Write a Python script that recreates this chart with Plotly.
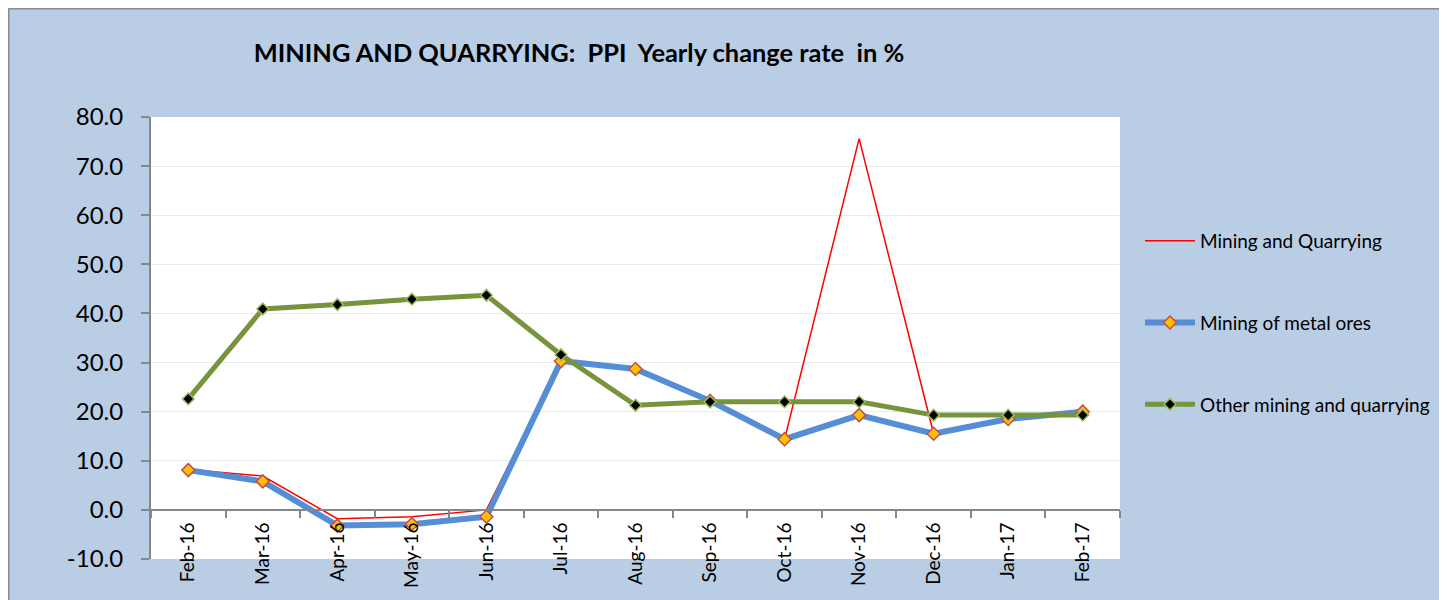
import plotly.graph_objects as go

months = ["Feb-16", "Mar-16", "Apr-16", "May-16", "Jun-16", "Jul-16", "Aug-16",
          "Sep-16", "Oct-16", "Nov-16", "Dec-16", "Jan-17", "Feb-17"]
mining_quarrying = [8.2, 6.9, -1.8, -1.4, 0.0, 30.4, 28.7, 22.2, 14.4, 75.6, 15.5, 18.5, 20.0]
metal_ores = [8.1, 5.8, -3.2, -2.9, -1.4, 30.3, 28.7, 22.2, 14.4, 19.3, 15.5, 18.5, 20.0]
other_mining = [22.6, 40.9, 41.8, 42.9, 43.7, 31.6, 21.3, 22.0, 22.0, 22.0, 19.3, 19.3, 19.3]
y_ticks = [-10, 0, 10, 20, 30, 40, 50, 60, 70, 80]
y_ticklabels = [f"{v:.1f}" for v in y_ticks]

# figure is placed by the page at (8, 8)
W, H = 1439, 592
L, R, T, B = 143, 1439 - 1112, 109, 592 - 551
PW, PH = W - L - R, H - T - B


def px_x(p):
    return (p - L) / PW


def px_y(p):
    return (H - B - p) / PH


BG = "#B9CDE5"
FONT = "Lato"

fig = go.Figure()
fig.add_trace(go.Scatter(
    x=months, y=mining_quarrying, name="Mining and Quarrying", mode="lines",
    line=dict(color="#FF0000", width=1.5), legendgroup="a"))
fig.add_trace(go.Scatter(
    x=months, y=metal_ores, name="Mining of metal ores", mode="lines+markers",
    line=dict(color="#558ED5", width=6),
    marker=dict(symbol="diamond", size=10, color="#FFC000",
                line=dict(color="#C0504D", width=1.5)), legendgroup="b"))
fig.add_trace(go.Scatter(
    x=months, y=other_mining, name="Other mining and quarrying", mode="lines+markers",
    line=dict(color="#77933C", width=5),
    marker=dict(symbol="diamond", size=9, color="#000000",
                line=dict(color="#9BBB59", width=1.5)), legendgroup="c"))

shapes = [
    dict(type="rect", xref="paper", yref="paper", x0=px_x(0.75), x1=px_x(1437.5),
         y0=px_y(640), y1=px_y(0.75), fillcolor="rgba(0,0,0,0)",
         line=dict(color="#8C8C8C", width=1.5)),
]

fig.update_layout(
    width=W, height=H,
    margin=dict(l=L, r=R, t=T, b=B, pad=0),
    paper_bgcolor=BG, plot_bgcolor="white",
    font=dict(family=FONT, color="#000000"),
    title=dict(text="MINING AND QUARRYING:\u00a0\u00a0PPI\u00a0\u00a0Yearly change rate\u00a0\u00a0in %",
               x=571 / W, xanchor="center", y=1 - 45 / H, yanchor="middle",
               font=dict(family=FONT, size=25.4, color="#000000", weight="bold")),
    showlegend=True,
    legend=dict(x=px_x(1132), y=px_y(214), xanchor="left", yanchor="top",
                bgcolor="rgba(0,0,0,0)", font=dict(family=FONT, size=19),
                traceorder="grouped", tracegroupgap=54, itemwidth=50),
    shapes=shapes,
    xaxis=dict(type="category", categoryorder="array", categoryarray=months,
               range=[-0.5, len(months) - 0.5],
               anchor="free", position=(0 - y_ticks[0]) / (y_ticks[-1] - y_ticks[0]),
               showline=True, linecolor="#868686", linewidth=2,
               ticks="outside", tickson="boundaries", ticklen=7, tickcolor="#868686",
               tickwidth=1.5, showgrid=False, zeroline=False, tickangle=-90,
               ticklabelstandoff=4,
               tickfont=dict(family=FONT, size=19, color="#000000")),
    yaxis=dict(range=[y_ticks[0], y_ticks[-1]], tickvals=y_ticks, ticktext=y_ticklabels,
               showline=True, linecolor="#868686", linewidth=2,
               ticks="outside", ticklen=8, tickcolor="#868686", tickwidth=1.5,
               showgrid=True, gridcolor="#E6ECF5", gridwidth=1, zeroline=False,
               ticklabelstandoff=13,
               tickfont=dict(family=FONT, size=24, color="#000000")),
)

fig.write_html("out.html")
